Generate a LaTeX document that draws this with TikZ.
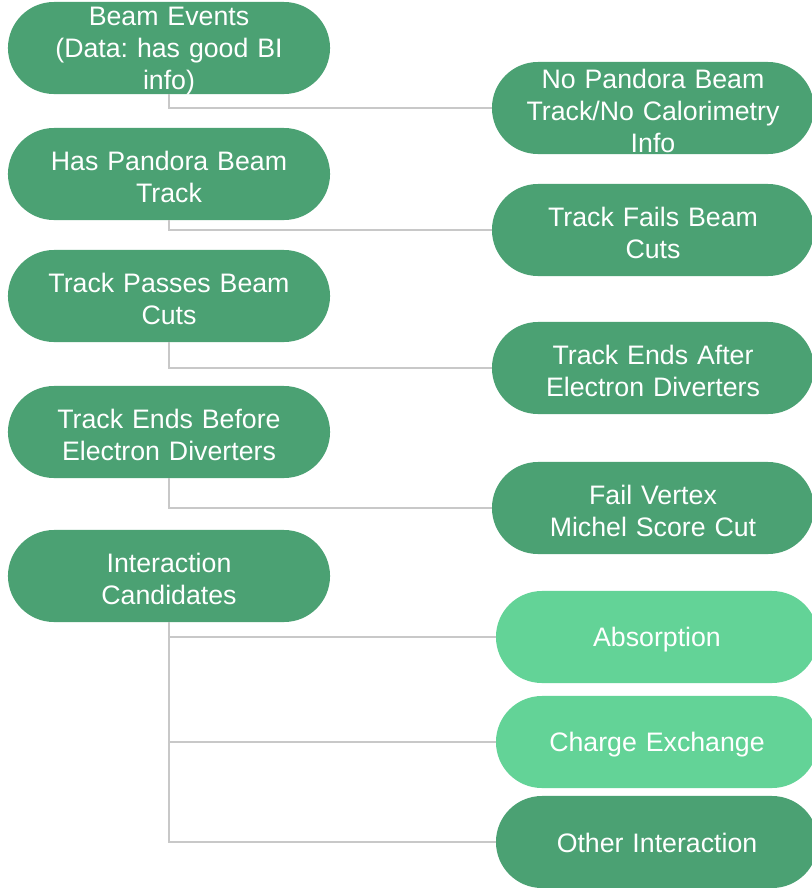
\documentclass[tikz,border=0pt]{standalone}
\usepackage{fontspec}
\setmainfont{Liberation Sans}
\frenchspacing
\usetikzlibrary{positioning}

\definecolor{darkgreen}{HTML}{4BA173}
\definecolor{lightgreen}{HTML}{63D397}
\definecolor{linkgray}{HTML}{C8C8C8}

\newcommand{\linestrut}{\rule[-3.4pt]{0pt}{21.5pt}}

\begin{document}
\begin{tikzpicture}[
    x=0.025cm, y=-0.025cm,
    stage/.style={rectangle, fill=darkgreen, text=white, rounded corners=1.15cm,
        minimum width=8.05cm, minimum height=2.3cm, inner xsep=0pt, inner ysep=-8pt,
        text width=7.6cm, align=center, font=\fontsize{19}{22.76}\selectfont,
        execute at begin node=\linestrut},
    result/.style={stage, fill=lightgreen},
    link/.style={draw=linkgray, line width=1.4pt}
]
\useasboundingbox (0,0) rectangle (811,888);

% left column
\node (BeamEvents) [stage] at (169,48) {Beam Events\\(Data: has good BI\\info)};
\node (HasTrack) [stage] at (169,174) {Has Pandora Beam\\Track};
\node (PassesCuts) [stage] at (169,296) {Track Passes Beam\\Cuts};
\node (EndsBefore) [stage] at (169,432) {Track Ends Before\\Electron Diverters};
\node (Candidates) [stage] at (169,576) {Interaction\\Candidates};

% right column
\node (NoTrack) [stage] at (653,108) {No Pandora Beam\\Track/No Calorimetry\\Info};
\node (FailsCuts) [stage] at (653,230) {Track Fails Beam\\Cuts};
\node (EndsAfter) [stage] at (653,368) {Track Ends After\\Electron Diverters};
\node (FailMichel) [stage] at (653,508) {Fail Vertex\\Michel Score Cut};
\node (Absorption) [result] at (657,637) {Absorption};
\node (ChargeExchange) [result] at (657,742) {Charge Exchange};
\node (OtherInteraction) [stage] at (657,842) {Other Interaction};

\draw[link] (BeamEvents.south) |- (NoTrack.west);
\draw[link] (HasTrack.south) |- (FailsCuts.west);
\draw[link] (PassesCuts.south) |- (EndsAfter.west);
\draw[link] (EndsBefore.south) |- (FailMichel.west);
\draw[link] (Candidates.south) |- (Absorption.west);
\draw[link] (Candidates.south) |- (ChargeExchange.west);
\draw[link] (Candidates.south) |- (OtherInteraction.west);

\end{tikzpicture}
\end{document}
